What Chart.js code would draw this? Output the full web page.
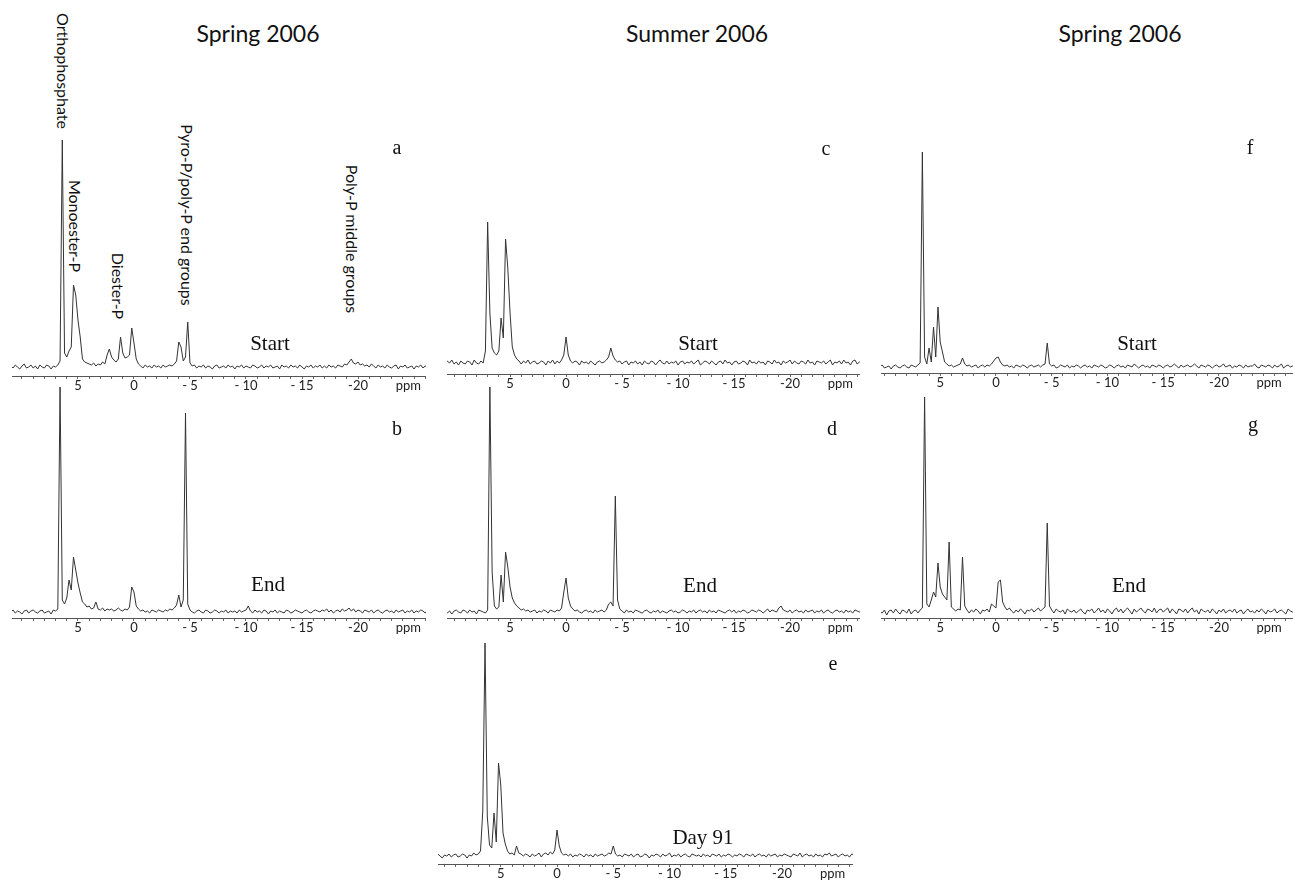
<!DOCTYPE html>
<html><head><meta charset="utf-8">
<script src="https://cdn.jsdelivr.net/npm/chart.js@4.4.1/dist/chart.umd.min.js"></script>
<style>
html,body{margin:0;padding:0;background:#fff;}
#fig{position:relative;width:1293px;height:880px;overflow:hidden;background:#fff;}
canvas{position:absolute;}
.t{position:absolute;transform:translate(-50%,-50%);white-space:nowrap;color:#111;line-height:1;}
.title{font-family:Lato,sans-serif;font-size:23px;}
.ann{font-family:Lato,sans-serif;font-size:16px;writing-mode:vertical-rl;}
.lab{font-family:"Liberation Serif",serif;font-size:21px;}
.let{font-family:"Liberation Serif",serif;font-size:20px;}
</style></head><body><div id="fig"></div>
<script>
// chemical shift grid (ppm)
const PPM = [
11,10.8,10.6,10.4,10.2,10,9.8,9.6,9.4,9.2,
9,8.8,8.6,8.4,8.2,8,7.8,7.6,7.4,7.2,
7,6.8,6.6,6.4,6.2,6,5.8,5.6,5.4,5.2,
5,4.8,4.6,4.4,4.2,4,3.8,3.6,3.4,3.2,
3,2.8,2.6,2.4,2.2,2,1.8,1.6,1.4,1.2,
1,0.8,0.6,0.4,0.2,0,-0.2,-0.4,-0.6,-0.8,
-1,-1.2,-1.4,-1.6,-1.8,-2,-2.2,-2.4,-2.6,-2.8,
-3,-3.2,-3.4,-3.6,-3.8,-4,-4.2,-4.4,-4.6,-4.8,
-5,-5.2,-5.4,-5.6,-5.8,-6,-6.2,-6.4,-6.6,-6.8,
-7,-7.2,-7.4,-7.6,-7.8,-8,-8.2,-8.4,-8.6,-8.8,
-9,-9.2,-9.4,-9.6,-9.8,-10,-10.2,-10.4,-10.6,-10.8,
-11,-11.2,-11.4,-11.6,-11.8,-12,-12.2,-12.4,-12.6,-12.8,
-13,-13.2,-13.4,-13.6,-13.8,-14,-14.2,-14.4,-14.6,-14.8,
-15,-15.2,-15.4,-15.6,-15.8,-16,-16.2,-16.4,-16.6,-16.8,
-17,-17.2,-17.4,-17.6,-17.8,-18,-18.2,-18.4,-18.6,-18.8,
-19,-19.2,-19.4,-19.6,-19.8,-20,-20.2,-20.4,-20.6,-20.8,
-21,-21.2,-21.4,-21.6,-21.8,-22,-22.2,-22.4,-22.6,-22.8,
-23,-23.2,-23.4,-23.6,-23.8,-24,-24.2,-24.4,-24.6,-24.8,
-25,-25.2,-25.4,-25.6,-25.8,-26,-26.2,-26.4,-26.6,-26.8,
-27];

// relative intensities
const SPEC_A = [
1,-1,2,0,-2,1,3,-1,0,2,
-1,1,-2,2,0,-1,2,1,-2,1,
0,2,6,227,14,10,16,20,82,72,
47,30,8,5,4,3,2,4,1,3,
2,5,3,12,18,10,7,5,8,30,
14,9,10,12,39,24,8,3,1,-1,
2,0,1,-1,2,0,1,-1,2,0,
1,2,1,3,6,25,20,6,10,45,
4,1,2,-1,1,0,2,-1,1,0,
-2,1,2,-1,0,1,-1,2,0,1,
-2,1,0,2,-1,1,0,-1,2,1,
-1,0,2,-1,1,0,2,-1,0,1,
-2,2,0,1,-1,2,0,1,-1,2,
0,-2,1,0,2,-1,1,0,2,-1,
1,-1,2,0,1,-1,2,1,0,3,
2,5,8,4,3,5,2,3,1,2,
0,3,1,-1,2,0,1,-1,2,0,
-1,1,2,-2,1,0,2,-1,0,1,
-2,1,0,2,-1,1,0,2,-1,1,
0];
const SPEC_B = [
0,2,-1,1,0,-2,1,2,-1,1,
2,0,-1,1,2,-1,0,1,-2,2,
1,3,225,12,8,14,32,22,55,42,
29,19,10,8,5,6,3,4,10,3,
2,4,1,3,2,3,1,2,4,2,
1,3,2,5,25,20,6,3,1,2,
0,1,-1,2,1,0,2,1,0,2,
1,3,2,4,7,17,5,12,199,8,
2,0,-1,1,2,0,-1,2,1,-1,
0,2,1,-1,1,0,2,-1,1,0,
1,-1,2,0,1,2,6,1,-1,2,
0,1,-1,2,1,-2,1,0,2,-1,
1,0,-1,2,1,-1,0,2,1,0,
-1,1,2,0,-1,1,2,1,0,2,
1,3,0,2,-1,1,2,0,3,1,
2,4,1,3,0,2,1,-1,2,1,
0,2,-1,1,2,0,-1,1,2,0,
1,-1,2,0,1,2,-1,1,0,2,
-1,1,0,2,1,-1,2,0,3,1,
0];
const SPEC_C = [
1,-2,2,0,3,-1,1,-2,2,0,
-1,2,1,-2,3,0,-1,2,0,12,
141,50,15,10,8,12,45,25,124,95,
50,16,8,4,2,-1,2,0,3,-1,
1,2,-1,0,2,1,-2,2,0,3,
-1,2,0,3,8,26,8,2,0,2,
1,-2,2,0,1,-1,2,0,-2,1,
2,0,1,3,6,15,7,3,1,2,
-1,1,2,-2,1,0,2,-1,1,-2,
2,0,-1,2,1,-2,1,3,0,-1,
2,-1,1,0,2,-2,1,2,-1,1,
0,2,-1,1,3,-2,0,2,1,-1,
2,0,-2,1,2,-1,3,0,1,-2,
1,2,-1,0,2,1,-2,3,0,1,
-1,2,0,1,-2,2,1,-1,3,0,
1,-2,2,0,1,3,-1,2,0,-1,
2,1,-1,3,0,1,-2,2,1,0,
2,-1,1,3,-2,1,0,2,-1,3,
0,1,-2,2,3,-1,1,2,-1,3,
1];
const SPEC_D = [
0,2,-1,1,-2,1,2,0,-1,2,
1,-1,2,0,1,-2,2,1,0,-1,
2,225,40,6,3,5,37,10,60,45,
25,14,9,6,4,2,3,1,2,0,
1,2,-1,1,0,2,1,-1,2,1,
0,2,1,4,20,34,14,6,3,1,
2,0,-1,1,2,0,1,-1,2,0,
1,2,0,2,8,10,6,116,12,3,
1,-1,2,0,1,-1,2,1,0,-1,
1,2,0,-1,1,0,2,-1,1,0,
-1,1,2,0,1,-1,0,2,1,-1,
1,0,2,-1,1,2,0,1,-1,2,
0,1,-1,2,1,0,-1,1,2,0,
2,-1,1,0,2,1,-1,0,2,1,
0,2,1,-1,1,3,0,2,1,0,
4,6,2,1,0,2,-1,1,2,0,
1,-1,2,0,1,2,-1,1,0,2,
-1,1,2,0,-1,1,2,0,1,-1,
2,0,1,-1,2,1,0,2,-1,1,
0];
const SPEC_E = [
1,-1,2,0,-2,1,0,2,-1,1,
2,-1,0,2,1,-2,1,0,3,1,
2,5,45,213,40,11,8,43,14,93,
71,23,12,5,2,3,1,10,3,2,
0,2,1,-1,2,0,1,3,-1,2,
3,1,4,2,6,26,10,3,1,2,
0,2,-1,1,0,2,1,-1,2,0,
1,-1,2,0,1,2,0,1,3,2,
10,2,0,1,-1,2,1,0,2,-1,
1,2,-1,0,2,1,-2,1,0,2,
1,-1,2,0,1,3,-1,1,0,2,
-1,1,2,0,-1,2,1,0,1,-1,
2,0,1,-1,2,1,0,2,-1,1,
0,2,1,-1,1,0,2,1,-1,2,
1,0,2,-1,1,2,0,1,-1,2,
0,1,2,-1,1,0,2,1,0,-1,
2,1,0,3,-1,1,2,0,1,-1,
2,0,1,-1,2,1,3,0,1,2,
-1,1,2,0,1,-1,2,1,0,2,
1];
const SPEC_F = [
0,2,-1,1,2,-1,0,1,-2,1,
2,0,-1,1,2,0,-1,2,1,0,
2,4,215,10,3,19,5,40,10,60,
25,15,5,3,1,2,0,1,2,3,
9,3,1,2,0,1,2,-1,1,2,
0,2,1,3,6,9,10,5,2,1,
2,0,1,-1,2,1,0,2,1,-1,
1,2,0,1,2,0,2,3,24,3,
1,2,-1,0,2,1,0,2,-1,1,
0,2,1,-1,1,2,0,1,-1,2,
1,0,2,1,-1,0,2,1,-1,1,
2,0,1,-1,2,1,0,3,1,-1,
1,2,0,1,-1,2,1,0,2,1,
-1,1,2,0,1,3,1,-1,2,0,
1,2,0,1,3,1,-1,2,1,0,
2,1,-1,1,2,0,1,3,0,1,
2,-1,1,0,2,1,-1,2,0,1,
1,3,0,-1,2,1,0,2,1,-1,
2,0,1,3,-1,1,2,0,1,-1,
1];
const SPEC_G = [
1,-2,3,0,-1,2,-3,1,2,-1,
3,0,-2,2,1,-1,3,-2,1,2,
-1,2,4,215,8,5,12,20,15,49,
25,18,15,12,70,5,3,1,3,2,
55,6,2,-1,2,0,3,1,-2,2,
1,3,0,8,6,4,30,32,10,5,
2,4,1,-1,2,0,3,1,-2,2,
1,3,0,2,4,1,3,5,89,6,
2,-1,3,1,0,2,-2,3,1,0,
2,-1,1,3,0,-2,2,1,3,-1,
1,4,0,2,-1,3,1,-2,2,4,
0,3,-1,2,4,1,-2,3,0,2,
4,1,-1,3,2,0,4,-1,2,3,
0,2,4,-1,3,1,-2,3,2,0,
3,-1,2,4,0,2,-2,3,1,0,
2,-1,3,1,-2,2,0,3,-1,1,
2,0,3,-1,1,2,-2,1,3,0,
1,-1,2,0,3,1,-2,2,0,1,
3,-1,1,2,0,-2,3,1,0,2,
1];

const MAJOR_TICKS = [5, 0, -5, -10, -15, -20, -24.5];
const MAJOR_LABELS = ['5', '0', '- 5', '- 10', '- 15', '-20', 'ppm'];
const COLUMN_TITLES = ['Spring 2006', 'Summer 2006', 'Spring 2006'];
const PANEL_LETTERS = ['a', 'b', 'c', 'd', 'e', 'f', 'g'];
const CONDITIONS = ['Start', 'End', 'Start', 'End', 'Day 91', 'Start', 'End'];
const PEAK_NAMES = ['Orthophosphate', 'Monoester-P', 'Diester-P', 'Pyro-P/poly-P end groups', 'Poly-P middle groups'];
const SPECTRA = [SPEC_A, SPEC_B, SPEC_C, SPEC_D, SPEC_E, SPEC_F, SPEC_G];

// layout (pixels) for each panel
const LAYOUT = [
 {left:12,  right:426,  xMax:10.89, xMin:-26.07, top:130, axisY:376, base:367, letter:[397,147], cond:[270,343]},
 {left:12,  right:426,  xMax:10.89, xMin:-26.07, top:380, axisY:618, base:612, letter:[397,428], cond:[268,584]},
 {left:447, right:860,  xMax:10.63, xMin:-26.25, top:130, axisY:374, base:363, letter:[826,148], cond:[698,343]},
 {left:447, right:860,  xMax:10.63, xMin:-26.25, top:380, axisY:618, base:612, letter:[832,428], cond:[700,585]},
 {left:438, right:853,  xMax:10.58, xMin:-26.31, top:630, axisY:864, base:856, letter:[833,663], cond:[703,837]},
 {left:881, right:1293, xMax:10.31, xMin:-26.64, top:130, axisY:373, base:367, letter:[1250,147], cond:[1137,343]},
 {left:881, right:1293, xMax:10.31, xMin:-26.64, top:380, axisY:618, base:612, letter:[1253,424], cond:[1129,585]}
];
const TITLE_POS = [[258,33],[697,33],[1120,33]];
const PEAK_POS = [[63,71],[75,226],[118,286],[187,215],[352,239]];

const fig = document.getElementById('fig');
function addText(cls, txt, x, y){
  const d = document.createElement('div');
  d.className = 't ' + cls; d.textContent = txt;
  d.style.left = x + 'px'; d.style.top = y + 'px';
  fig.appendChild(d);
}
COLUMN_TITLES.forEach((t,i)=>addText('title', t, TITLE_POS[i][0], TITLE_POS[i][1]));
PEAK_NAMES.forEach((t,i)=>addText('ann', t, PEAK_POS[i][0], PEAK_POS[i][1]));

const AXH = 18;
LAYOUT.forEach((p,k)=>{
  const cv = document.createElement('canvas');
  const w = p.right - p.left, h = p.axisY - p.top + AXH;
  cv.width = w; cv.height = h;
  cv.style.left = p.left + 'px'; cv.style.top = p.top + 'px';
  cv.style.width = w + 'px'; cv.style.height = h + 'px';
  fig.appendChild(cv);
  const spec = SPECTRA[k];
  new Chart(cv, {
    type: 'line',
    data: { datasets: [{ data: PPM.map((x,i)=>({x:x, y:spec[i]})), borderColor:'#333', borderWidth:1, pointRadius:0, tension:0, fill:false }] },
    options: {
      responsive:false, animation:false, devicePixelRatio:1,
      layout:{padding:0},
      plugins:{legend:{display:false}, tooltip:{enabled:false}},
      scales:{
        x:{
          type:'linear', reverse:true, min:p.xMin, max:p.xMax, position:'bottom',
          afterFit: s => { s.height = AXH; },
          afterBuildTicks: s => {
            const t = [];
            for (let v = Math.ceil(p.xMin); v <= Math.floor(p.xMax); v++) t.push({value:v});
            t.push({value:-24.5});
            t.sort((a,b)=>a.value-b.value);
            s.ticks = t;
          },
          ticks:{autoSkip:false, maxRotation:0, minRotation:0, padding:-1, color:'#222',
                 font:{family:'Lato', size:13},
                 callback: v => { const j = MAJOR_TICKS.indexOf(v); return j < 0 ? '' : MAJOR_LABELS[j]; }},
          grid:{drawOnChartArea:false, drawTicks:true, tickLength:3, lineWidth:1,
                color: c => (c.tick && c.tick.value === -24.5) ? 'rgba(0,0,0,0)' : '#666'},
          border:{display:true, color:'#555', width:1}
        },
        y:{display:false, min:p.base - p.axisY, max:p.base - p.top}
      }
    }
  });
  addText('let', PANEL_LETTERS[k], p.letter[0], p.letter[1]);
  addText('lab', CONDITIONS[k], p.cond[0], p.cond[1]);
});
</script></body></html>
